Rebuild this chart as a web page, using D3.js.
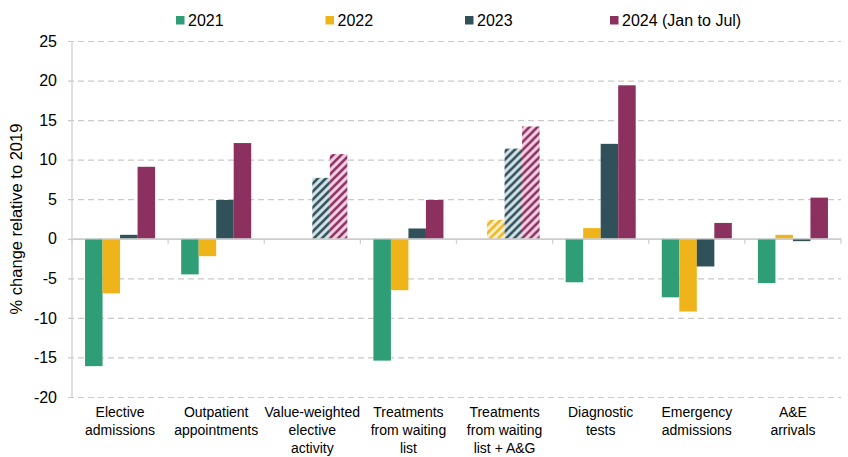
<!DOCTYPE html>
<html>
<head>
<meta charset="utf-8">
<script src="https://cdn.jsdelivr.net/npm/d3@7"></script>
<style>
  html, body { margin: 0; padding: 0; background: #fff; }
  svg { display: block; font-family: "Liberation Sans", Arial, sans-serif; }
</style>
</head>
<body>
<svg id="chart" width="848" height="457"></svg>
<script>
// chart values
var categories = [
  ["Elective", "admissions"],
  ["Outpatient", "appointments"],
  ["Value-weighted", "elective", "activity"],
  ["Treatments", "from waiting", "list"],
  ["Treatments", "from waiting", "list + A&G"],
  ["Diagnostic", "tests"],
  ["Emergency", "admissions"],
  ["A&E", "arrivals"]
];
var seriesNames = ["2021", "2022", "2023", "2024 (Jan to Jul)"];

var values2021 = [-16.1, -4.5, null, -15.4, null, -5.5, -7.4, -5.6];
var values2022 = [-6.9, -2.2, null, -6.5, 2.4, 1.35, -9.2, 0.5];
var values2023 = [0.5, 4.9, 7.7, 1.3, 11.4, 12.0, -3.5, -0.3];
var values2024 = [9.1, 12.1, 10.7, 4.9, 14.2, 19.4, 2.0, 5.2];

// which bars are drawn hatched (category index -> series index)
var hatched = [[2, 2], [2, 3], [4, 1], [4, 2], [4, 3]];

var yTicks = [-20, -15, -10, -5, 0, 5, 10, 15, 20, 25];

var colors = ["#2f9e76", "#f0b41b", "#30505a", "#8c3060"];
var lightColors = ["#d6efe4", "#fdefc9", "#d3e2e6", "#f3d0e2"];

var allValues = [values2021, values2022, values2023, values2024];

var svg = d3.select("#chart");
var plotLeft = 72, plotRight = 841, plotTop = 41, plotBottom = 397;

var x0 = d3.scaleBand().domain(d3.range(categories.length)).range([plotLeft, plotRight]).padding(0);
var x1 = d3.scaleBand().domain(d3.range(seriesNames.length))
  .range([0, x0.bandwidth()]).paddingInner(0).paddingOuter(0.745);
var y = d3.scaleLinear().domain([-20, 25]).range([plotBottom, plotTop]);

// hatch patterns
var defs = svg.append("defs");
colors.forEach(function(c, i){
  var p = defs.append("pattern")
    .attr("id", "hatch" + i)
    .attr("patternUnits", "userSpaceOnUse")
    .attr("width", 8).attr("height", 8);
  p.append("rect").attr("width", 8).attr("height", 8).attr("fill", lightColors[i]);
  p.append("path")
    .attr("d", "M-2,2 L2,-2 M0,8 L8,0 M6,10 L10,6")
    .attr("stroke", c).attr("stroke-width", 2.6);
});

// gridlines
var yAxis = d3.axisLeft(y).tickValues(yTicks).tickSize(-(plotRight - plotLeft) - 4).tickPadding(10)
  .tickFormat(function(d){ return d; });
var gy = svg.append("g").attr("transform", "translate(" + (plotLeft - 4) + ",0)").call(yAxis);
gy.select(".domain").remove();
gy.selectAll(".tick line")
  .attr("x1", 0)
  .attr("stroke", "#c9c9c9")
  .attr("stroke-width", 1.2)
  .attr("stroke-dasharray", function(d){ return d === 0 ? null : "6,4"; });
gy.selectAll(".tick text")
  .attr("x", -11)
  .attr("font-size", "16px")
  .attr("fill", "#000")
  .attr("font-family", "'Liberation Sans', Arial, sans-serif");

// y axis line
svg.append("line")
  .attr("x1", plotLeft).attr("x2", plotLeft)
  .attr("y1", plotTop).attr("y2", plotBottom)
  .attr("stroke", "#cfcfcf").attr("stroke-width", 1.3);

// bars
var groups = svg.append("g").selectAll("g")
  .data(categories).enter().append("g")
  .attr("transform", function(d, i){ return "translate(" + x0(i) + ",0)"; });

groups.each(function(cat, ci){
  var g = d3.select(this);
  allValues.forEach(function(vals, si){
    var v = vals[ci];
    if (v === null) return;
    var isHatch = hatched.some(function(h){ return h[0] === ci && h[1] === si; });
    g.append("rect")
      .attr("x", x1(si))
      .attr("width", x1.bandwidth())
      .attr("y", y(Math.max(0, v)))
      .attr("height", Math.abs(y(v) - y(0)))
      .attr("fill", isHatch ? "url(#hatch" + si + ")" : colors[si]);
  });
});

// x axis at zero
svg.append("line")
  .attr("x1", plotLeft).attr("x2", plotRight)
  .attr("y1", y(0)).attr("y2", y(0))
  .attr("stroke", "#cfcfcf").attr("stroke-width", 1.3);
var xTickPos = d3.range(categories.length + 1).map(function(i){ return plotLeft + i * x0.bandwidth(); });
svg.append("g").selectAll("line").data(xTickPos).enter().append("line")
  .attr("x1", function(d){ return d; }).attr("x2", function(d){ return d; })
  .attr("y1", y(0)).attr("y2", y(0) + 5)
  .attr("stroke", "#cfcfcf").attr("stroke-width", 1.3);

// category labels
var labels = svg.append("g").selectAll("text")
  .data(categories).enter().append("text")
  .attr("text-anchor", "middle")
  .attr("font-size", "14px")
  .attr("fill", "#000")
  .attr("x", function(d, i){ return x0(i) + x0.bandwidth() / 2; })
  .attr("y", 417);
labels.selectAll("tspan").data(function(d){ return d; }).enter().append("tspan")
  .attr("x", function(){ return d3.select(this.parentNode).attr("x"); })
  .attr("dy", function(d, i){ return i === 0 ? 0 : 18; })
  .text(function(d){ return d; });

// y axis title
svg.append("text")
  .attr("transform", "translate(22," + ((plotTop + plotBottom) / 2) + ") rotate(-90)")
  .attr("text-anchor", "middle")
  .attr("font-size", "16.5px")
  .attr("fill", "#000")
  .text("% change relative to 2019");

// legend
var legendX = [176, 325.5, 465, 610];
var legend = svg.append("g").selectAll("g")
  .data(seriesNames).enter().append("g")
  .attr("transform", function(d, i){ return "translate(" + legendX[i] + ",0)"; });
legend.append("rect")
  .attr("y", 16).attr("width", 8.5).attr("height", 8.5)
  .attr("fill", function(d, i){ return colors[i]; });
legend.append("text")
  .attr("x", 12).attr("y", 25.5)
  .attr("font-size", "16px")
  .attr("fill", "#000")
  .text(function(d){ return d; });
</script>
</body>
</html>
